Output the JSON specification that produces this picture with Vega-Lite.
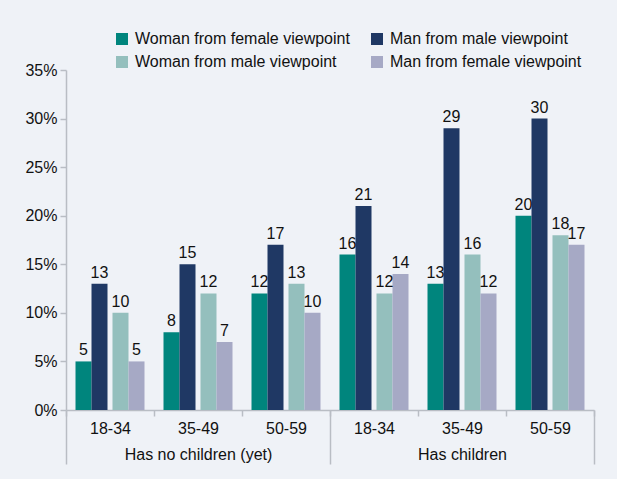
{
  "$schema": "https://vega.github.io/schema/vega-lite/v6.json",
  "width": 528,
  "height": 340,
  "autosize": {"type": "none"},
  "padding": {"left": 66, "top": 70, "right": 23, "bottom": 69},
  "background": "#eff2f7",
  "config": {
    "view": {"stroke": null},
    "font": "Liberation Sans",
    "axis": {"domainColor": "#b9bdc4", "tickColor": "#b9bdc4", "domainWidth": 1.5, "tickWidth": 1.5, "labelColor": "#111111", "labelFontSize": 16, "titleFontSize": 16}
  },
  "data": {
    "values": [
      {"group": "Has no children (yet)", "age": "18-34", "series": "Woman from female viewpoint", "value": 5},
      {"group": "Has no children (yet)", "age": "18-34", "series": "Man from male viewpoint", "value": 13},
      {"group": "Has no children (yet)", "age": "18-34", "series": "Woman from male viewpoint", "value": 10},
      {"group": "Has no children (yet)", "age": "18-34", "series": "Man from female viewpoint", "value": 5},
      {"group": "Has no children (yet)", "age": "35-49", "series": "Woman from female viewpoint", "value": 8},
      {"group": "Has no children (yet)", "age": "35-49", "series": "Man from male viewpoint", "value": 15},
      {"group": "Has no children (yet)", "age": "35-49", "series": "Woman from male viewpoint", "value": 12},
      {"group": "Has no children (yet)", "age": "35-49", "series": "Man from female viewpoint", "value": 7},
      {"group": "Has no children (yet)", "age": "50-59", "series": "Woman from female viewpoint", "value": 12},
      {"group": "Has no children (yet)", "age": "50-59", "series": "Man from male viewpoint", "value": 17},
      {"group": "Has no children (yet)", "age": "50-59", "series": "Woman from male viewpoint", "value": 13},
      {"group": "Has no children (yet)", "age": "50-59", "series": "Man from female viewpoint", "value": 10},
      {"group": "Has children", "age": "18-34", "series": "Woman from female viewpoint", "value": 16},
      {"group": "Has children", "age": "18-34", "series": "Man from male viewpoint", "value": 21},
      {"group": "Has children", "age": "18-34", "series": "Woman from male viewpoint", "value": 12},
      {"group": "Has children", "age": "18-34", "series": "Man from female viewpoint", "value": 14},
      {"group": "Has children", "age": "35-49", "series": "Woman from female viewpoint", "value": 13},
      {"group": "Has children", "age": "35-49", "series": "Man from male viewpoint", "value": 29},
      {"group": "Has children", "age": "35-49", "series": "Woman from male viewpoint", "value": 16},
      {"group": "Has children", "age": "35-49", "series": "Man from female viewpoint", "value": 12},
      {"group": "Has children", "age": "50-59", "series": "Woman from female viewpoint", "value": 20},
      {"group": "Has children", "age": "50-59", "series": "Man from male viewpoint", "value": 30},
      {"group": "Has children", "age": "50-59", "series": "Woman from male viewpoint", "value": 18},
      {"group": "Has children", "age": "50-59", "series": "Man from female viewpoint", "value": 17}
    ]
  },
  "transform": [{"calculate": "datum.group + '|' + datum.age", "as": "cohort"}],
  "layer": [
    {
      "transform": [{"filter": {"field": "series", "oneOf": ["Woman from female viewpoint", "Man from male viewpoint"]}}],
      "encoding": {
        "x": {
          "field": "cohort", "type": "nominal",
          "scale": {"domain": ["Has no children (yet)|18-34", "Has no children (yet)|35-49", "Has no children (yet)|50-59", "Has children|18-34", "Has children|35-49", "Has children|50-59"], "paddingInner": 0, "paddingOuter": 0},
          "axis": {"title": null, "labelAngle": 0, "labelExpr": "split(datum.label, '|')[1]", "tickBand": "extent", "tickSize": 6, "labelPadding": 4}
        },
        "xOffset": {
          "field": "series", "type": "nominal",
          "scale": {"domain": ["Woman from female viewpoint", "Man from male viewpoint", "Woman from male viewpoint", "Man from female viewpoint"], "paddingInner": 0, "paddingOuter": 0.75, "align": 0.396}
        },
        "y": {
          "field": "value", "type": "quantitative",
          "scale": {"domain": [0, 35]},
          "axis": {"title": null, "grid": false, "values": [0, 5, 10, 15, 20, 25, 30, 35], "labelExpr": "datum.value + '%'", "tickSize": 6, "labelPadding": 3}
        }
      },
      "layer": [
        {
          "mark": {"type": "bar"},
          "encoding": {
            "color": {
              "field": "series", "type": "nominal",
              "scale": {"domain": ["Woman from female viewpoint", "Man from male viewpoint", "Woman from male viewpoint", "Man from female viewpoint"], "range": ["#00857d", "#1f3864", "#94bfbd", "#a6a9c5"]},
              "legend": {"title": null, "orient": "none", "direction": "horizontal", "legendX": 48, "legendY": -39, "columns": 2, "columnPadding": 19, "rowPadding": 7, "symbolType": "square", "symbolSize": 144, "symbolStrokeWidth": 0, "labelFontSize": 16, "labelColor": "#111111", "labelOffset": 5, "labelLimit": 400}
            }
          }
        },
        {
          "mark": {"type": "text", "baseline": "alphabetic", "dy": -6, "fontSize": 16, "color": "#111111"},
          "encoding": {"text": {"field": "value", "type": "quantitative"}}
        }
      ]
    },
    {
      "transform": [{"filter": {"field": "series", "oneOf": ["Woman from male viewpoint", "Man from female viewpoint"]}}],
      "encoding": {
        "x": {
          "field": "cohort", "type": "nominal",
          "scale": {"domain": ["Has no children (yet)|18-34", "Has no children (yet)|35-49", "Has no children (yet)|50-59", "Has children|18-34", "Has children|35-49", "Has children|50-59"], "paddingInner": 0, "paddingOuter": 0},
          "axis": null
        },
        "xOffset": {
          "field": "series", "type": "nominal",
          "scale": {"domain": ["Woman from female viewpoint", "Man from male viewpoint", "Woman from male viewpoint", "Man from female viewpoint"], "paddingInner": 0, "paddingOuter": 0.75, "align": 0.604}
        },
        "y": {"field": "value", "type": "quantitative"}
      },
      "layer": [
        {
          "mark": {"type": "bar"},
          "encoding": {"color": {"field": "series", "type": "nominal"}}
        },
        {
          "mark": {"type": "text", "baseline": "alphabetic", "dy": -6, "fontSize": 16, "color": "#111111"},
          "encoding": {"text": {"field": "value", "type": "quantitative"}}
        }
      ]
    },
    {
      "mark": {"type": "point", "opacity": 0},
      "encoding": {
        "x": {
          "field": "group", "type": "nominal",
          "scale": {"type": "point", "domain": ["Has no children (yet)", "Has children", "end"], "padding": 0},
          "axis": {"title": null, "orient": "bottom", "domain": false, "labelAngle": 0, "tickSize": 54, "labelPadding": -18, "labelOffset": 132, "labelExpr": "datum.label == 'end' ? '' : datum.label", "labelOverlap": false, "labelBound": false, "labelFlush": false}
        }
      }
    }
  ],
  "resolve": {"scale": {"x": "independent", "xOffset": "independent"}, "axis": {"x": "independent"}}
}
